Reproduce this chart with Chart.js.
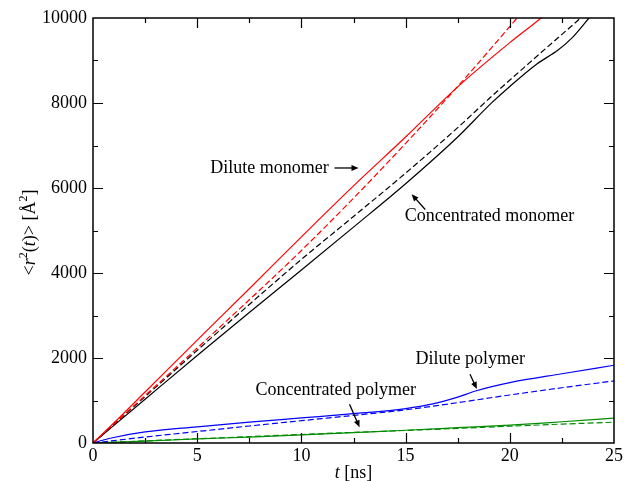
<!DOCTYPE html>
<html>
<head>
<meta charset="utf-8">
<script src="https://cdn.jsdelivr.net/npm/chart.js@4"></script>
<style>
html,body{margin:0;padding:0;background:#fff;}
canvas{display:block;}
</style>
</head>
<body>
<canvas id="c" width="625" height="481" style="width:625px;height:481px"></canvas>
<script>
// ---- Data (t in ns, <r^2(t)> in Å^2) ----
const xTicks = [0, 5, 10, 15, 20, 25];
const yTicks = [0, 2000, 4000, 6000, 8000, 10000];

const tDiluteMonomer   = [0, 1, 2.5, 5, 7.5, 10, 12.5, 15, 17.5, 20, 21.5, 23, 25];
const vDiluteMonomer   = [0, 470, 1200, 2420, 3630, 4850, 6050, 7200, 8380, 9420, 10000, 10650, 11500];

const tDiluteMonomerFit = [0, 2.5, 5, 7.5, 10, 12.5, 15, 17.5, 20, 22.5];
const vDiluteMonomerFit = [0, 1115, 2235, 3370, 4530, 5760, 7050, 8390, 9800, 11250];

const tConcMonomer     = [0, 2.5, 5, 7.5, 10, 12.5, 15, 17.5, 19.1, 20, 21.3, 22.3, 23.0, 23.8, 25];
const vConcMonomer     = [0, 1030, 2060, 3070, 4070, 5080, 6100, 7200, 7990, 8390, 8920, 9240, 9540, 10000, 10700];

const tConcMonomerFit  = [0, 2.5, 5, 7.5, 10, 12.5, 15, 17.5, 19, 21.3, 23.4, 25];
const vConcMonomerFit  = [0, 1090, 2180, 3260, 4320, 5330, 6350, 7420, 8100, 9100, 10000, 10700];

const tDilutePolymer   = [0, 0.5, 1, 2.5, 5, 7.5, 10, 12.5, 15, 16.3, 17.5, 18.4, 20, 22.5, 25];
const vDilutePolymer   = [0, 70, 130, 260, 380, 490, 590, 690, 810, 920, 1080, 1230, 1420, 1630, 1830];

const tDilutePolymerFit = [0, 2.5, 5, 7.5, 10, 12.5, 15, 17.5, 20, 22.5, 25];
const vDilutePolymerFit = [0, 140, 270, 400, 525, 650, 780, 950, 1130, 1300, 1460];

const tConcPolymer     = [0, 2.5, 5, 7.5, 10, 12.5, 15, 17.5, 20, 22.5, 25];
const vConcPolymer     = [0, 45, 95, 140, 190, 245, 300, 360, 420, 500, 585];

const tConcPolymerFit  = [0, 2.5, 5, 7.5, 10, 12.5, 15, 17.5, 20, 22.5, 25];
const vConcPolymerFit  = [0, 50, 100, 150, 200, 250, 295, 345, 395, 445, 490];

// annotations in data coordinates
const notes = [
  {text: 'Dilute monomer',       t: 5.63,  v: 6471, from: [11.59, 6471], to: [12.74, 6471]},
  {text: 'Concentrated monomer', t: 14.96, v: 5341, from: [15.94, 5494], to: [15.29, 5854]},
  {text: 'Dilute polymer',       t: 15.47, v: 1976, from: [18.09, 1616], to: [18.42, 1271]},
  {text: 'Concentrated polymer', t: 7.80,  v: 1247, from: [12.31, 911],  to: [12.79, 369]}
];

const RED = '#ff0000', BLACK = '#000000', BLUE = '#0000ff', GREEN = '#008c00';
const SERIF = "'Liberation Serif', 'Times New Roman', serif";

function pts(ts, vs) { return ts.map((t, i) => ({x: t, y: vs[i]})); }
function ds(ts, vs, color, dashed) {
  return {
    data: pts(ts, vs), borderColor: color, backgroundColor: color,
    borderWidth: 1.2, borderDash: dashed ? [6, 3] : [], pointRadius: 0,
    cubicInterpolationMode: 'monotone', fill: false
  };
}

const framePlugin = {
  id: 'frame',
  afterDraw(chart) {
    const c = chart.ctx, a = chart.chartArea;
    const xs = chart.scales.x, ys = chart.scales.y;
    c.save();
    c.strokeStyle = '#000';
    c.lineWidth = 1.5;
    c.setLineDash([]);
    c.strokeRect(a.left, a.top, a.right - a.left, a.bottom - a.top);
    c.lineWidth = 1.2;
    c.beginPath();
    for (let t = 2.5; t < 25; t += 2.5) {
      const major = Math.abs(t / 5 - Math.round(t / 5)) < 1e-6;
      const L = major ? 10 : 5;
      const px = Math.round(xs.getPixelForValue(t)) + 0.5;
      c.moveTo(px, a.bottom); c.lineTo(px, a.bottom - L);
      c.moveTo(px, a.top);    c.lineTo(px, a.top + L);
    }
    for (let v = 1000; v < 10000; v += 1000) {
      const major = v % 2000 === 0;
      const L = major ? 10 : 5;
      const py = Math.round(ys.getPixelForValue(v)) + 0.5;
      c.moveTo(a.left, py);  c.lineTo(a.left + L, py);
      c.moveTo(a.right, py); c.lineTo(a.right - L, py);
    }
    c.stroke();

    // annotations
    c.fillStyle = '#000';
    c.font = '18px ' + SERIF;
    c.textBaseline = 'middle';
    c.textAlign = 'left';
    notes.forEach(n => {
      c.fillText(n.text, xs.getPixelForValue(n.t), ys.getPixelForValue(n.v));
      const x1 = xs.getPixelForValue(n.from[0]), y1 = ys.getPixelForValue(n.from[1]);
      const x2 = xs.getPixelForValue(n.to[0]),   y2 = ys.getPixelForValue(n.to[1]);
      const ang = Math.atan2(y2 - y1, x2 - x1);
      const hl = 7, hw = 3;
      c.lineWidth = 1.3;
      c.beginPath();
      c.moveTo(x1, y1);
      c.lineTo(x2 - hl * 0.8 * Math.cos(ang), y2 - hl * 0.8 * Math.sin(ang));
      c.stroke();
      c.beginPath();
      c.moveTo(x2, y2);
      c.lineTo(x2 - hl * Math.cos(ang) + hw * Math.sin(ang), y2 - hl * Math.sin(ang) - hw * Math.cos(ang));
      c.lineTo(x2 - hl * Math.cos(ang) - hw * Math.sin(ang), y2 - hl * Math.sin(ang) + hw * Math.cos(ang));
      c.closePath();
      c.fill();
    });

    // x-axis title: t [ns]
    c.textBaseline = 'alphabetic';
    const cx = (a.left + a.right) / 2;
    const italic = 'italic 18px ' + SERIF, normal = '18px ' + SERIF, sup = '12px ' + SERIF;
    const xParts = [{s: 't', f: italic}, {s: ' [ns]', f: normal}];
    drawParts(c, xParts, cx, 478);

    // y-axis title: <r^2(t)> [Å^2]
    c.save();
    c.translate(35, (a.top + a.bottom) / 2 + 2);
    c.rotate(-Math.PI / 2);
    const yParts = [
      {s: '<', f: normal}, {s: 'r', f: italic}, {s: '2', f: sup, up: 8},
      {s: '(', f: normal}, {s: 't', f: italic}, {s: ')> [Å', f: normal},
      {s: '2', f: sup, up: 8}, {s: ']', f: normal}
    ];
    drawParts(c, yParts, 0, 0);
    c.restore();
    c.restore();
  }
};

function drawParts(c, parts, cx, baseY) {
  let w = 0;
  parts.forEach(p => { c.font = p.f; w += c.measureText(p.s).width; });
  let x = cx - w / 2;
  c.textAlign = 'left';
  parts.forEach(p => {
    c.font = p.f;
    c.fillText(p.s, x, baseY - (p.up || 0));
    x += c.measureText(p.s).width;
  });
}

new Chart(document.getElementById('c'), {
  type: 'line',
  data: {
    datasets: [
      ds(tDiluteMonomer, vDiluteMonomer, RED, false),
      ds(tDiluteMonomerFit, vDiluteMonomerFit, RED, true),
      ds(tConcMonomer, vConcMonomer, BLACK, false),
      ds(tConcMonomerFit, vConcMonomerFit, BLACK, true),
      ds(tDilutePolymer, vDilutePolymer, BLUE, false),
      ds(tDilutePolymerFit, vDilutePolymerFit, BLUE, true),
      ds(tConcPolymer, vConcPolymer, GREEN, false),
      ds(tConcPolymerFit, vConcPolymerFit, GREEN, true)
    ]
  },
  options: {
    responsive: false,
    animation: false,
    layout: {padding: {top: 18, right: 10, left: 0, bottom: 0}},
    plugins: {legend: {display: false}, tooltip: {enabled: false}},
    scales: {
      x: {
        type: 'linear', min: 0, max: 25,
        afterBuildTicks(s) { s.ticks = xTicks.map(v => ({value: v})); },
        ticks: {color: '#000', font: {family: SERIF, size: 18}, padding: 2, maxRotation: 0, autoSkip: false,
                callback: v => String(v)},
        grid: {display: false, drawTicks: false},
        border: {display: false},
        afterFit(s) { s.height = 38; }
      },
      y: {
        type: 'linear', min: 0, max: 10000,
        afterBuildTicks(s) { s.ticks = yTicks.map(v => ({value: v})); },
        ticks: {color: '#000', font: {family: SERIF, size: 18}, padding: 6, autoSkip: false,
                callback: v => String(v)},
        grid: {display: false, drawTicks: false},
        border: {display: false},
        afterFit(s) { s.width = 93; }
      }
    }
  },
  plugins: [framePlugin]
});
</script>
</body>
</html>
